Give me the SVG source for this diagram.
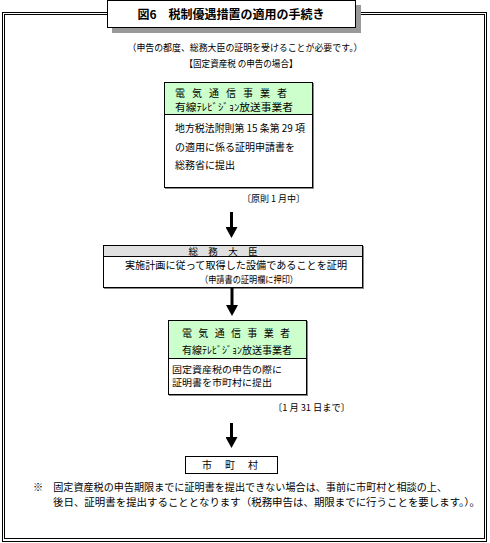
<svg xmlns="http://www.w3.org/2000/svg" width="490" height="543" viewBox="0 0 490 543">
<defs>
<style>
text{font-family:"Noto Sans CJK JP","Liberation Sans",sans-serif;font-size:10px;fill:#000}
.c{text-anchor:middle}
.frame{fill:none;stroke:#000;stroke-width:1}
.box{fill:#fff;stroke:#000;stroke-width:1}
.shadow{fill:#888}
.green{fill:#ccffcc;stroke:#000;stroke-width:1}
.gray{fill:#e0e0e0;stroke:#000;stroke-width:1}
.conn{stroke:#000;stroke-width:3;fill:none}
</style>
<marker id="ah" markerUnits="userSpaceOnUse" markerWidth="12" markerHeight="12" refX="0" refY="6" orient="auto" viewBox="0 0 12 12">
<path d="M0,0 L11,6 L0,12 z" fill="#000"/>
</marker>
</defs>
<rect width="490" height="543" fill="#fff"/>
<g id="frame">
<rect class="frame" x="2.5" y="12.5" width="484" height="529"/>
<rect class="frame" x="4.5" y="14.5" width="480" height="524"/>
</g>
<g id="title">
<rect x="112" y="5" width="249" height="28" fill="#999"/>
<rect class="box" x="107.5" y="0.5" width="248" height="27"/>
<text class="c" x="231" y="19" style="font-size:12px;font-weight:bold">図6　税制優遇措置の適用の手続き</text>
</g>
<g id="subtitle">
<text class="c" x="245" y="51" textLength="235" lengthAdjust="spacingAndGlyphs" style="font-size:9.5px">（申告の都度、総務大臣の証明を受けることが必要です。）</text>
<text class="c" x="241" y="67" textLength="113" lengthAdjust="spacingAndGlyphs" style="font-size:9.5px">【固定資産税 の申告の場合】</text>
</g>
<g id="node-operator1">
<rect class="shadow" x="165" y="83" width="149" height="106"/>
<rect class="box" x="164.5" y="82.5" width="148" height="105"/>
<rect class="green" x="164.5" y="82.5" width="148" height="32"/>
<text x="175" y="97" textLength="112" lengthAdjust="spacing">電気通信事業者</text>
<text x="175" y="111" textLength="118" lengthAdjust="spacingAndGlyphs">有線ﾃﾚﾋﾞｼﾞｮﾝ放送事業者</text>
<text x="175" y="132" textLength="130" lengthAdjust="spacingAndGlyphs">地方税法附則第 15 条第 29 項</text>
<text x="175" y="151">の適用に係る証明申請書を</text>
<text x="175" y="169">総務省に提出</text>
</g>
<text id="note1" x="242" y="202" textLength="63" lengthAdjust="spacingAndGlyphs" style="font-size:9.5px">〔原則 1 月中〕</text>
<g id="node-minister">
<rect class="shadow" x="104" y="246" width="260" height="43"/>
<rect class="box" x="103.5" y="245.5" width="259" height="42"/>
<rect class="gray" x="103.5" y="245.5" width="259" height="11"/>
<text class="c" x="223" y="255" textLength="69" lengthAdjust="spacing" style="font-size:9.5px">総務大臣</text>
<text class="c" x="236" y="269" textLength="222" lengthAdjust="spacingAndGlyphs">実施計画に従って取得した設備であることを証明</text>
<text class="c" x="249" y="283" textLength="98" lengthAdjust="spacingAndGlyphs" style="font-size:9.5px">（申請書の証明欄に押印）</text>
</g>
<g id="node-operator2">
<rect class="shadow" x="169" y="321" width="139" height="75"/>
<rect class="box" x="168.5" y="320.5" width="138" height="74"/>
<rect class="green" x="168.5" y="320.5" width="138" height="38"/>
<text x="182" y="337" textLength="108" lengthAdjust="spacing">電気通信事業者</text>
<text x="182" y="354" textLength="110" lengthAdjust="spacingAndGlyphs">有線ﾃﾚﾋﾞｼﾞｮﾝ放送事業者</text>
<text x="172" y="373" textLength="110" lengthAdjust="spacingAndGlyphs" style="font-size:9px">固定資産税の申告の際に</text>
<text x="172" y="386" textLength="100" lengthAdjust="spacingAndGlyphs" style="font-size:9px">証明書を市町村に提出</text>
</g>
<text id="note2" x="273" y="411" textLength="77" lengthAdjust="spacingAndGlyphs" style="font-size:9.5px">〔1 月 31 日まで〕</text>
<g id="node-municipality">
<rect class="box" x="185.5" y="456.5" width="92" height="17"/>
<text x="202" y="469" textLength="56" lengthAdjust="spacing">市町村</text>
</g>
<g id="footnote">
<text x="33" y="491" textLength="414" lengthAdjust="spacingAndGlyphs">※　固定資産税の申告期限までに証明書を提出できない場合は、事前に市町村と相談の上、</text>
<text x="53" y="506" textLength="427" lengthAdjust="spacingAndGlyphs">後日、証明書を提出することとなります（税務申告は、期限までに行うことを要します。）。</text>
</g>
<g id="connectors">
<line class="conn" x1="231.5" y1="212" x2="231.5" y2="227" marker-end="url(#ah)"/>
<line class="conn" x1="232" y1="288" x2="232" y2="305" marker-end="url(#ah)"/>
<line class="conn" x1="231.5" y1="423" x2="231.5" y2="437" marker-end="url(#ah)"/>
</g>
</svg>
